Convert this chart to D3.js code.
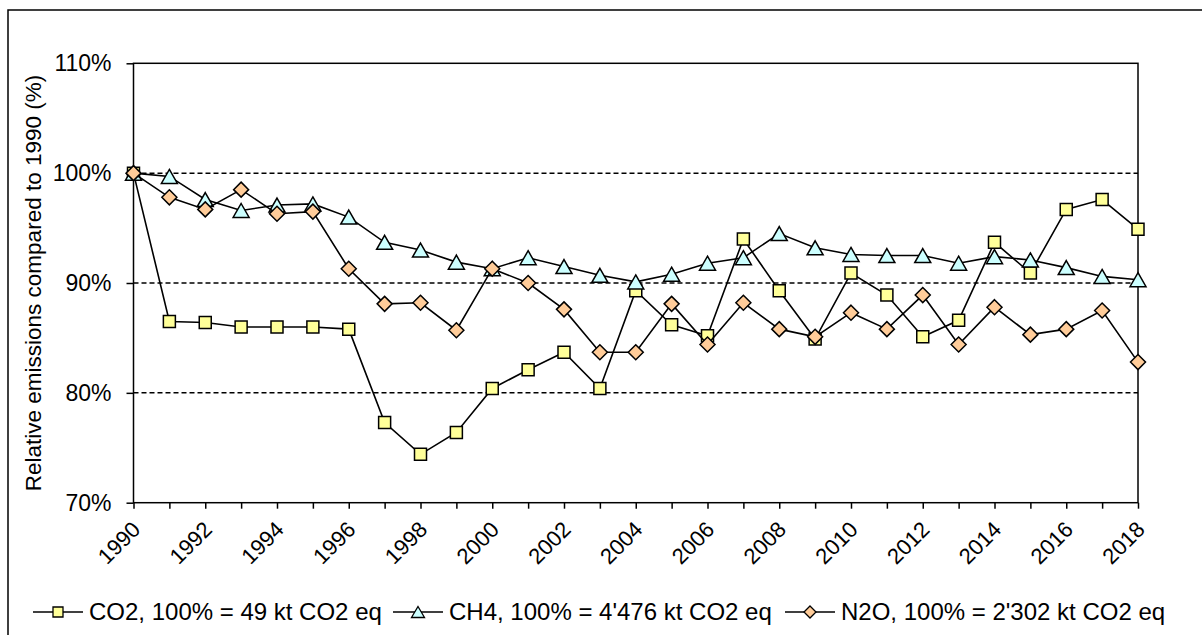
<!DOCTYPE html>
<html><head><meta charset="utf-8">
<script src="https://cdn.jsdelivr.net/npm/d3@7"></script>
<style>body{margin:0;background:#fff}svg{display:block}text{font-family:"Liberation Sans",Arial,sans-serif;fill:#000}</style>
</head><body><svg id="c" width="1202" height="635"></svg>
<script>
const years = [1990,1991,1992,1993,1994,1995,1996,1997,1998,1999,2000,2001,2002,2003,2004,2005,2006,2007,2008,2009,2010,2011,2012,2013,2014,2015,2016,2017,2018];
const co2 = [100,86.5,86.4,86.0,86.0,86.0,85.8,77.3,74.4,76.4,80.4,82.1,83.7,80.4,89.3,86.2,85.2,94.0,89.3,84.9,90.9,88.9,85.1,86.6,93.7,90.9,96.7,97.6,94.9];
const ch4 = [100,99.7,97.6,96.6,97.1,97.2,96.0,93.7,93.0,91.9,91.3,92.3,91.5,90.7,90.1,90.8,91.8,92.3,94.5,93.2,92.6,92.5,92.5,91.8,92.4,92.1,91.4,90.6,90.3];
const n2o = [100,97.8,96.7,98.5,96.3,96.5,91.3,88.1,88.2,85.7,91.3,90.0,87.6,83.7,83.7,88.1,84.4,88.2,85.8,85.1,87.3,85.8,88.9,84.4,87.8,85.3,85.8,87.5,82.8];
const yTicks = [70,80,90,100,110];
const gridVals = [80,90,100];
const xLabelYears = [1990,1992,1994,1996,1998,2000,2002,2004,2006,2008,2010,2012,2014,2016,2018];
const seriesNames = ["CO2, 100% = 49 kt CO2 eq","CH4, 100% = 4'476 kt CO2 eq","N2O, 100% = 2'302 kt CO2 eq"];
const yTitle = "Relative emissions compared to 1990 (%)";

const svg = d3.select("#c");
const L = 133.5, R = 1138, T = 63.3, B = 502.7;
const x = d3.scaleLinear().domain([1990,2018]).range([L,R]);
const y = d3.scaleLinear().domain([70,110]).range([B,T]);

// outer frame
svg.append("rect").attr("x",8).attr("y",10).attr("width",1200).attr("height",630)
  .attr("fill","none").attr("stroke","#000").attr("stroke-width",1.5);

// gridlines
svg.append("g").selectAll("line").data(gridVals).join("line")
  .attr("x1",L).attr("x2",R).attr("y1",d=>y(d)).attr("y2",d=>y(d))
  .attr("stroke","#000").attr("stroke-width",1.5).attr("stroke-dasharray","5,3");

// plot border
svg.append("rect").attr("x",L).attr("y",T).attr("width",R-L).attr("height",B-T)
  .attr("fill","none").attr("stroke","#000").attr("stroke-width",1.5);

// y axis
const yAxis = d3.axisLeft(y).tickValues(yTicks).tickFormat(d=>d+"%").tickSize(7).tickPadding(15);
const gy = svg.append("g").attr("transform",`translate(${L},0)`).call(yAxis);
gy.select(".domain").remove();
gy.selectAll("line").attr("stroke","#000").attr("stroke-width",1.5);
gy.selectAll("text").attr("font-size",23).attr("font-family","Liberation Sans, Arial, sans-serif");

// x axis
const xAxis = d3.axisBottom(x).tickValues(years).tickFormat("").tickSize(6);
const gx = svg.append("g").attr("transform",`translate(0,${B})`).call(xAxis);
gx.select(".domain").remove();
gx.selectAll("line").attr("stroke","#000").attr("stroke-width",1.5);
svg.append("g").selectAll("text").data(xLabelYears).join("text")
  .attr("transform",d=>`translate(${x(d)-3},${B+17}) rotate(-45)`)
  .attr("text-anchor","end").attr("dy","0.72em").attr("font-size",22).text(d=>d);

// y title
svg.append("text").attr("transform",`translate(33,${(T+B)/2}) rotate(-90)`)
  .attr("text-anchor","middle").attr("dy","0.35em").attr("font-size",22.5).text(yTitle);

// markers
function sq(s){return `M${-s},${-s}H${s}V${s}H${-s}Z`;}
function tri(w,h){return `M0,${-h}L${w},${h}L${-w},${h}Z`;}
function dia(s){return `M0,${-s}L${s},0L0,${s}L${-s},0Z`;}
const series = [
  {vals:co2, fill:"#FFFF99", path:sq(6), lpath:sq(5)},
  {vals:ch4, fill:"#CCFFFF", path:tri(8,7), lpath:tri(6.5,5.5)},
  {vals:n2o, fill:"#FFCC99", path:dia(7.5), lpath:dia(6)}
];
const line = d3.line().x((d,i)=>x(years[i])).y(d=>y(d));
series.forEach(s=>{
  const g = svg.append("g");
  g.append("path").attr("d",line(s.vals)).attr("fill","none").attr("stroke","#000").attr("stroke-width",1.6);
  g.selectAll("path.m").data(s.vals).join("path").attr("class","m")
    .attr("d",s.path).attr("transform",(d,i)=>`translate(${x(years[i])},${y(d)})`)
    .attr("fill",s.fill).attr("stroke","#000").attr("stroke-width",1.5);
});

// legend
const legY = 612;
const legX = [33, 393, 785];
series.forEach((s,i)=>{
  const g = svg.append("g").attr("transform",`translate(${legX[i]},${legY})`);
  g.append("line").attr("x1",0).attr("x2",50).attr("stroke","#000").attr("stroke-width",1.5);
  g.append("path").attr("d",s.lpath).attr("transform","translate(25,0)").attr("fill",s.fill).attr("stroke","#000").attr("stroke-width",1.3);
  g.append("text").attr("x",56).attr("dy","0.35em").attr("font-size",24).text(seriesNames[i]);
});
</script></body></html>
